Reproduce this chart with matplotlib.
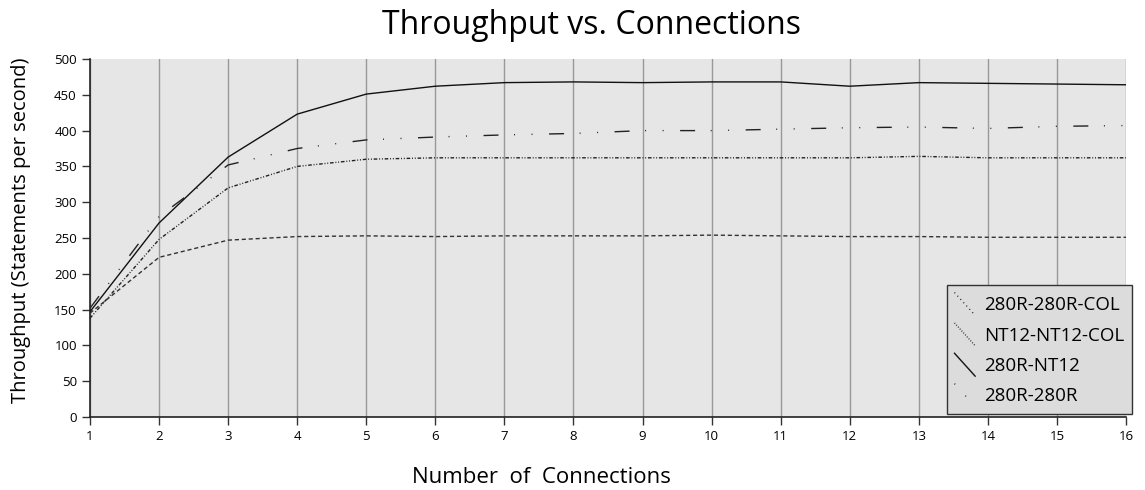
import matplotlib
matplotlib.use("Agg")
import matplotlib.pyplot as plt
from matplotlib.lines import Line2D
from matplotlib.legend_handler import HandlerBase

connections = list(range(1, 17))
series_names = ["280R-280R-COL", "NT12-NT12-COL", "280R-NT12", "280R-280R"]
s_280r_280r_col = [138, 248, 320, 350, 360, 362, 362, 362, 362, 362, 362, 362, 364, 362, 362, 362]
s_nt12_nt12_col = [145, 223, 247, 252, 253, 252, 253, 253, 253, 254, 253, 252, 252, 251, 251, 251]
s_280r_nt12 = [147, 271, 363, 423, 451, 462, 467, 468, 467, 468, 468, 462, 467, 466, 465, 464]
s_280r_280r = [152, 280, 352, 375, 387, 391, 394, 396, 400, 400, 402, 404, 405, 403, 406, 407]
y_ticks = list(range(0, 501, 50))

plt.rcParams['font.family'] = ['Open Sans', 'DejaVu Sans']

fig = plt.figure(figsize=(11.45, 4.9), dpi=100)
ax = fig.add_axes([90/1145, 1-417/490, (1126-90)/1145, (417-59)/490])
ax.set_facecolor('#e6e6e6')

styles = [
    dict(linestyle=(0, (2.6, 1.3, 0.7, 1.3, 0.7, 1.3)), lw=1.0, color='#222222'),
    dict(linestyle=(0, (3.0, 2.0)), lw=1.0, color='#333333'),
    dict(linestyle='-', lw=1.0, color='#111111'),
    dict(linestyle=(0, (10.8, 11.2, 0.7, 11.9, 0.7, 11.9)), lw=1.0, color='#222222'),
]
legend_styles = [
    dict(linestyle=(0, (0.7, 2.5)), lw=1.0, color='#222222'),
    dict(linestyle=(0, (0.7, 1.2)), lw=1.0, color='#333333'),
    dict(linestyle='-', lw=1.0, color='#111111'),
    dict(linestyle=(0, (0.7, 11.0)), lw=1.0, color='#222222'),
]
data = [s_280r_280r_col, s_nt12_nt12_col, s_280r_nt12, s_280r_280r]
for name, vals, st in zip(series_names, data, styles):
    ax.plot(connections, vals, label=name, zorder=3, **st)

ax.set_xlim(1, 16)
ax.set_ylim(0, 500)
ax.set_xticks(connections)
ax.set_yticks(y_ticks)
ax.tick_params(axis='both', labelsize=9.5, length=6, width=1, color='#333333', direction='out')
ax.xaxis.grid(True, color='#999999', lw=1)
ax.set_axisbelow(True)
for s in ['top', 'right']:
    ax.spines[s].set_visible(False)
for s in ['left', 'bottom']:
    ax.spines[s].set_color('#222222')
    ax.spines[s].set_linewidth(1.2)

fig.text(541/1145, 1-477/490, 'Number  of  Connections', ha='center', va='center', fontsize=16)
fig.text(21/1145, 1-230/490, 'Throughput (Statements per second)', ha='center', va='center',
         rotation=90, fontsize=14.5)
fig.text(592/1145, 1-26/490, 'Throughput vs. Connections', ha='center', va='center', fontsize=23)


class DiagHandler(HandlerBase):
    def create_artists(self, legend, orig_handle, xdescent, ydescent, width, height, fontsize, trans):
        ln = Line2D([-xdescent, -xdescent + width], [-ydescent + height, -ydescent])
        ln.update_from(orig_handle)
        ln.set_transform(trans)
        return [ln]


proxies = [Line2D([], [], **st) for st in legend_styles]
leg = fig.legend(proxies, series_names, loc='upper left',
                 bbox_to_anchor=(947/1145, 1-285/490), fontsize=13.5,
                 handler_map={Line2D: DiagHandler()}, handlelength=1.1, handleheight=1.5,
                 handletextpad=0.5, labelspacing=0.4, borderpad=0.4, borderaxespad=0.0,
                 frameon=True, fancybox=False, framealpha=1)
leg.get_frame().set_facecolor('#dcdcdc')
leg.get_frame().set_edgecolor('#333333')
leg.get_frame().set_linewidth(1.0)

fig.savefig('out.png', dpi=100)
